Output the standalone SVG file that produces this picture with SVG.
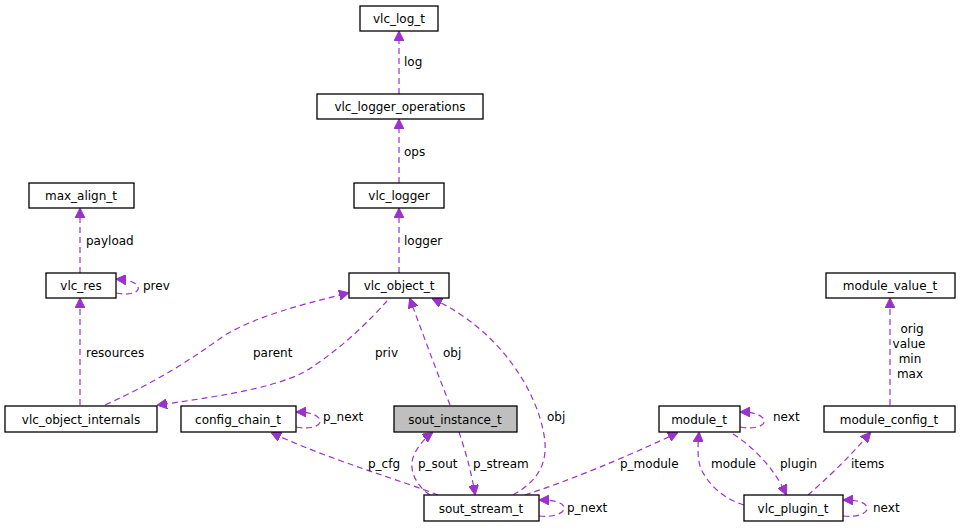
<svg xmlns="http://www.w3.org/2000/svg" width="961" height="528" viewBox="0 0 961 528">
<style>
.n rect{fill:#fff;stroke:#000;stroke-width:1.3}
text{font-family:"DejaVu Sans",sans-serif;font-size:12px;fill:#000}
.n text{text-anchor:middle}
.e path{fill:none;stroke:#9a32cd;stroke-width:1.2;stroke-dasharray:6,4;marker-end:url(#a)}
</style>
<defs><marker id="a" viewBox="0 0 10 10" refX="9" refY="5" markerWidth="10" markerHeight="10" markerUnits="userSpaceOnUse" orient="auto"><path d="M0,0L10,5L0,10z" fill="#9a32cd" stroke="#9a32cd"/></marker></defs>
<rect width="961" height="528" fill="#fff"/>
<g class="e">
<path d="M399,94V32"/><text x="404" y="66">log</text>
<path d="M399,183V120"/><text x="404" y="156">ops</text>
<path d="M399,273V209"/><text x="404" y="245">logger</text>
<path d="M80,273V209"/><text x="86" y="245">payload</text>
<path d="M116,293C130,296 140,292 138,287C137,283 130,280 117,279"/><text x="143" y="290">prev</text>
<path d="M80,405V299"/><text x="86" y="357">resources</text>
<path d="M105,405C160,380 190,360 225,335C260,315 300,305 348,293"/><text x="253" y="357">parent</text>
<path d="M387,301C370,320 345,345 315,365C290,385 230,395 158,405"/><text x="375" y="357">priv</text>
<path d="M450,405C440,380 425,340 410,299"/><text x="443" y="357">obj</text>
<path d="M513,495C540,480 550,460 543,430C535,390 500,330 433,299"/><text x="547" y="421">obj</text>
<path d="M296,427C312,430 322,425 320,420C318,415 310,412 297,412"/><text x="323" y="421">p_next</text>
<path d="M438,495C400,480 330,460 272,433"/><text x="368" y="468">p_cfg</text>
<path d="M430,495C415,485 408,468 414,455C418,446 425,438 432,433"/><text x="418" y="468">p_sout</text>
<path d="M459,432C465,450 471,470 475,494"/><text x="473" y="468">p_stream</text>
<path d="M525,495C570,480 620,460 677,433"/><text x="620" y="468">p_module</text>
<path d="M539,516C555,518 566,512 564,507C562,502 554,500 540,500"/><text x="567" y="512">p_next</text>
<path d="M740,427C756,430 766,425 764,420C762,415 754,412 741,412"/><text x="773" y="421">next</text>
<path d="M744,505C720,498 705,480 700,466C697,455 698,445 699,433"/><text x="711" y="468">module</text>
<path d="M733,434C755,448 775,470 786,494"/><text x="780" y="468">plugin</text>
<path d="M808,495C825,480 845,462 870,433"/><text x="851" y="468">items</text>
<path d="M843,516C859,518 869,512 867,507C865,502 857,500 844,500"/><text x="873" y="512">next</text>
<path d="M890,405V299"/>
<text x="912" y="333" text-anchor="middle">orig</text><text x="909" y="348" text-anchor="middle">value</text><text x="910" y="363" text-anchor="middle">min</text><text x="910" y="378" text-anchor="middle">max</text>
</g>
<g class="n" id="vlc_log_t"><rect x="360" y="6" width="78" height="25"/><text x="399" y="23">vlc_log_t</text></g>
<g class="n" id="vlc_logger_operations"><rect x="317" y="94" width="166" height="25"/><text x="400" y="111">vlc_logger_operations</text></g>
<g class="n" id="vlc_logger"><rect x="354" y="183" width="90" height="25"/><text x="399" y="200">vlc_logger</text></g>
<g class="n" id="max_align_t"><rect x="29" y="183" width="105" height="25"/><text x="81" y="200">max_align_t</text></g>
<g class="n" id="vlc_res"><rect x="46" y="273" width="70" height="25"/><text x="81" y="290">vlc_res</text></g>
<g class="n" id="vlc_object_t"><rect x="349" y="273" width="100" height="25"/><text x="399" y="290">vlc_object_t</text></g>
<g class="n" id="module_value_t"><rect x="826" y="273" width="129" height="25"/><text x="890" y="290">module_value_t</text></g>
<g class="n" id="vlc_object_internals"><rect x="5" y="406" width="152" height="26"/><text x="81" y="424">vlc_object_internals</text></g>
<g class="n" id="config_chain_t"><rect x="181" y="406" width="115" height="26"/><text x="238" y="424">config_chain_t</text></g>
<g class="n" id="sout_instance_t"><rect x="394" y="406" width="123" height="26" style="fill:#bfbfbf"/><text x="455" y="424">sout_instance_t</text></g>
<g class="n" id="module_t"><rect x="659" y="406" width="81" height="26"/><text x="699" y="424">module_t</text></g>
<g class="n" id="module_config_t"><rect x="824" y="406" width="131" height="26"/><text x="889" y="424">module_config_t</text></g>
<g class="n" id="sout_stream_t"><rect x="424" y="495" width="115" height="26"/><text x="481" y="513">sout_stream_t</text></g>
<g class="n" id="vlc_plugin_t"><rect x="744" y="495" width="99" height="26"/><text x="793" y="513">vlc_plugin_t</text></g>
</svg>
